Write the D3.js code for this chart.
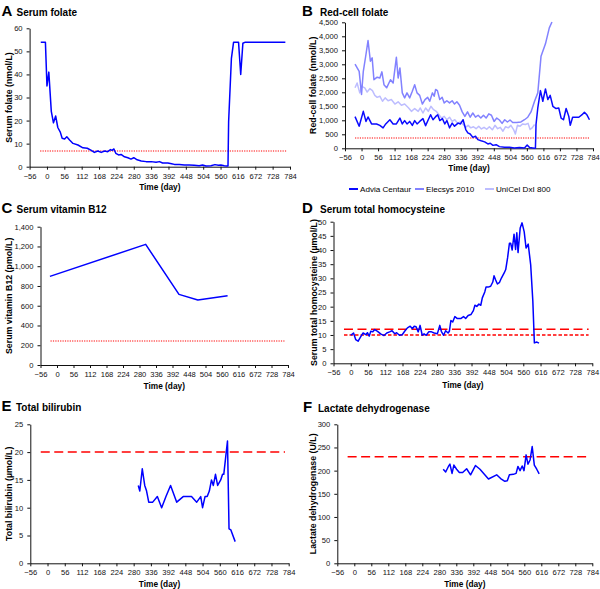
<!DOCTYPE html>
<html><head><meta charset="utf-8">
<script src="https://cdn.jsdelivr.net/npm/d3@7"></script>
<style>
body{margin:0;background:#fff}
svg{display:block}
text{font-family:"Liberation Sans",Arial,Helvetica,sans-serif}
</style>
</head><body>
<svg id="c" width="600" height="589"></svg>
<script>
// ---------- DATA ----------
const dayTicks = d3.range(-56, 785, 56);
const refSpan = [-22, 772];

// A: Serum folate (nmol/L)
const folateDays = [-20,-5,0,6,14,21,28,35,43,49,57,64,73,84,100,116,130,143,153,164,175,186,196,205,210,216,222,231,239,250,261,271,280,291,304,320,336,352,363,373,390,402,411,427,443,459,475,491,502,513,529,542,553,561,572,580,584,586,595,602,618,625,632,640,769];
const folateValues = [54,54,35,41,24,19,22,17,15,12.3,12,13,11.6,10.1,9.4,8.2,8,7.1,6.2,6.8,6.2,6.8,6.5,7.4,7.1,7.7,5.8,5.1,5.3,4.3,3.9,3.3,3.9,3,2.5,2.2,2.2,1.9,2.2,1.6,1.6,1.3,1,1,0.7,0.7,0.6,0.4,0.7,0.3,0.4,0.9,0.6,0.7,0.4,0.3,0.3,19.5,47,54,54,40,53.5,54,54];
const folateRef = 6.8;

// B: Red-cell folate (nmol/L)
const rcfSeries = ["Advia Centaur", "Elecsys 2010", "UniCel DxI 800"];
const adviaDays = [-22,-8,6,15,22,34,51,62,73,82,96,107,118,130,138,146,154,163,172,180,188,197,208,217,226,234,242,251,258,265,274,282,289,298,307,315,327,335,344,353,360,368,377,386,394,405,417,428,436,445,456,467,484,501,518,535,552,561,569,586,589,591,597,606,614,623,631,639,648,659,668,676,684,693,702,707,715,727,736,747,755,763,772];
const adviaValues = [1130,790,1320,960,1120,870,870,820,730,870,1020,870,870,1080,870,990,870,960,820,990,870,960,1060,810,1020,1200,1020,1130,1200,990,1060,870,990,730,900,790,900,870,1020,670,550,510,390,430,310,270,230,155,180,105,130,60,35,35,12,25,12,120,25,0,0,850,1440,2060,1680,2120,1740,1890,1500,1420,1440,1080,1020,1420,1140,820,1110,1110,1110,1200,1290,1200,1020];
const elecsysDays = [-22,-8,0,6,15,22,30,36,42,53,62,69,76,85,98,107,118,124,130,138,146,154,163,172,180,188,197,206,215,224,231,240,246,251,257,265,273,280,289,298,307,315,323,332,341,350,359,368,377,386,395,404,413,422,431,440,449,458,467,476,485,494,503,512,526,540,552,563,574,586,597,608,623,636,645];
const elecsysValues = [3010,2750,1920,2750,3350,3850,3110,3230,2450,2540,2510,2730,2270,2160,2450,2330,3250,2510,2870,1980,1800,1980,1800,2040,2270,1980,1890,1580,1740,1820,1680,1980,1860,2100,2060,1740,1820,1620,1700,1620,1700,1580,1660,1540,1300,1140,1300,1110,1260,1110,1180,1080,1180,1080,1230,1180,960,1080,1010,890,1020,940,1010,920,920,940,1020,1110,1300,1680,1980,3290,3730,4300,4510];
const unicelDays = [-22,-15,-6,1,11,19,28,37,45,53,62,71,80,90,101,113,124,135,146,158,169,180,192,199,208,217,226,235,244,253,262,271,280,289,298,307,316,325,335,344,353,361,370,379,388,397,406,415,424,433,443,452,461,470,479,488,497,506,515,521,528,537,546,555,564,571,578,586];
const unicelValues = [2160,2330,1980,2210,2160,2010,2130,2060,1890,1820,1860,1680,1800,1700,1740,1580,1660,1540,1580,1460,1320,1420,1320,1440,1260,1440,1320,1500,1380,1320,1200,1080,1140,1020,1110,960,1020,900,940,850,750,820,730,770,700,790,690,750,680,770,660,820,700,750,610,770,730,820,670,510,820,790,870,850,890,670,730,850];
const rcfRef = 370;

// C: Serum vitamin B12 (pmol/L)
const b12Days = [-24,301,414,478,579];
const b12Values = [897,1221,715,658,702];
const b12Ref = 243;

// D: Serum total homocysteine (µmol/L)
const hcyDays = [0,9,16,24,33,40,49,54,60,65,71,78,87,97,108,117,126,134,143,149,158,167,175,184,193,200,206,212,219,225,232,238,245,253,262,271,281,289,294,301,308,316,320,325,331,338,346,357,366,373,381,390,398,403,409,416,422,427,435,439,446,454,461,465,470,476,483,489,498,503,509,515,519,524,530,535,539,543,550,556,563,569,576,584,591,596,604,611];
const hcyValues = [9.9,10.7,8.4,7.8,9.5,10.7,10.1,10.8,9.6,11.3,11.1,11.9,11.3,10.4,9.8,10.7,11.1,11.5,10.4,10.8,9.9,10.1,11.3,12.5,13.1,12.2,13.1,12.9,11.1,13.4,9.9,10.4,9.9,11.1,11.1,10.7,10.4,13.4,11.3,9.9,11.5,10.7,11.3,15.1,14.6,16.5,15.8,15.8,16.5,15.8,16.9,17.2,18.6,20.5,20.1,20.9,20.5,23.1,25.2,26.9,26.9,27.2,28.7,30.9,29.5,28,28.6,30.1,31.9,33.1,37.2,42.4,42.4,40,45.6,40.2,46.1,39.1,47.8,49.6,46.4,40.7,42.1,34.8,21.9,7.2,7.5,7.1];
const hcyRefUpper = 12;
const hcyRefLower = 10;

// E: Total bilirubin (µmol/L)
const biliDays = [295,300,308,316,322,329,342,357,371,385,400,420,441,468,485,498,504,512,519,526,533,539,546,553,563,569,573,579,585,590,596,610];
const biliValues = [14,13,17,14,13,11,11,12,10,12,14,11,12,12,11,12,10,12,12,13,15,14,16,14,15,16,16,19,22,6.2,6,3.9];
const biliRef = 20;

// F: Lactate dehydrogenase (U/L)
const ldhDays = [293,301,310,315,322,328,337,346,357,370,383,399,414,442,469,482,496,504,511,524,533,539,546,553,559,566,572,579,586,593,601,609];
const ldhValues = [203,197,209,214,194,212,203,196,196,204,191,211,203,182,191,183,177,178,191,192,194,209,200,210,200,234,214,223,252,212,203,193];
const ldhRef = 230;

// ---------- DRAW ----------
const svg = d3.select("#c");
const BLUE = "#0000ff";
const RED = "#ff0000";
const zip = (a, b) => a.map((d, i) => [d, b[i]]);

function panel(o) {
  const g = svg.append("g");
  const x = d3.scaleLinear().domain([-56, 784]).range([o.x0, o.x1]);
  const y = d3.scaleLinear().domain([0, o.yMax]).range([o.yb, o.yt]);

  const xa = g.append("g").attr("transform", `translate(0,${o.yb})`)
    .call(d3.axisBottom(x).tickValues(dayTicks).tickSize(3).tickPadding(3.5).tickSizeOuter(0));
  const ya = g.append("g").attr("transform", `translate(${o.x0},0)`)
    .call(d3.axisLeft(y).tickValues(d3.range(0, o.yMax + 1e-9, o.yStep)).tickSize(3).tickPadding(4)
      .tickSizeOuter(0).tickFormat(d3.format(",")));
  [xa, ya].forEach(a => {
    a.selectAll("path.domain").attr("stroke", "#111").attr("stroke-width", 1);
    a.selectAll(".tick line").attr("stroke", "#111");
    a.selectAll(".tick text").attr("font-size", 7.6).attr("fill", "#111")
      .attr("font-family", '"Liberation Sans",Arial,sans-serif');
  });

  // reference lines
  o.refs.forEach(r => {
    g.append("line")
      .attr("x1", x(refSpan[0])).attr("x2", x(refSpan[1]))
      .attr("y1", y(r.v)).attr("y2", y(r.v))
      .attr("stroke", RED).attr("stroke-width", r.w)
      .attr("stroke-dasharray", r.dash);
  });

  // series
  const line = d3.line().x(d => x(d[0])).y(d => y(d[1]));
  o.series.forEach(s => {
    g.append("path").datum(s.data).attr("d", line)
      .attr("fill", "none").attr("stroke", s.color).attr("stroke-width", s.w || 1.5)
      .attr("stroke-linejoin", "round");
  });

  // titles
  g.append("text").attr("x", o.lx).attr("y", o.ly).attr("font-size", 15).attr("font-weight", "bold")
    .attr("fill", "#000").text(o.letter);
  g.append("text").attr("x", o.tx).attr("y", o.ly).attr("font-size", 10).attr("font-weight", "bold")
    .attr("fill", "#000").text(o.title);
  g.append("text").attr("x", (o.x0 + o.x1) / 2).attr("y", o.xly).attr("text-anchor", "middle")
    .attr("font-size", 8.3).attr("font-weight", "bold").attr("fill", "#000").text("Time (day)");
  g.append("text").attr("transform", `translate(${o.ylx},${(o.yb + o.yt) / 2}) rotate(-90)`)
    .attr("text-anchor", "middle").attr("dy", "0.35em")
    .attr("font-size", 8.8).attr("font-weight", "bold").attr("fill", "#000").text(o.ylabel);
  return { g, x, y };
}

const dotted = "1.2,1.2", longDash = "9,4.5", shortDash = "3.5,2";

panel({ x0: 29.6, x1: 290, yb: 166.7, yt: 28.3, yMax: 60, yStep: 10,
  letter: "A", title: "Serum folate", lx: 1.5, ly: 15.5, tx: 16.5, xly: 190, ylx: 8.5,
  ylabel: "Serum folate (nmol/L)",
  refs: [{ v: folateRef, dash: dotted, w: 1.1 }],
  series: [{ data: zip(folateDays, folateValues), color: BLUE }] });

const pb = panel({ x0: 345, x1: 593, yb: 148.3, yt: 22.3, yMax: 4500, yStep: 500,
  letter: "B", title: "Red-cell folate", lx: 302, ly: 15.5, tx: 320, xly: 171, ylx: 313,
  ylabel: "Red-cell folate (nmol/L)",
  refs: [{ v: rcfRef, dash: dotted, w: 1.1 }],
  series: [
    { data: zip(unicelDays, unicelValues), color: "#bdbdff" },
    { data: zip(elecsysDays, elecsysValues), color: "#8282ff" },
    { data: zip(adviaDays, adviaValues), color: "#0a0aff" }
  ] });

// legend for B
const legendColors = ["#0a0aff", "#8282ff", "#bdbdff"];
const legendX = [349, 415, 485];
rcfSeries.forEach((name, i) => {
  svg.append("line").attr("x1", legendX[i]).attr("x2", legendX[i] + 9).attr("y1", 189).attr("y2", 189)
    .attr("stroke", legendColors[i]).attr("stroke-width", 2);
  svg.append("text").attr("x", legendX[i] + 11).attr("y", 189).attr("dy", "0.35em")
    .attr("font-size", 8.1).attr("fill", "#000").text(name);
});

panel({ x0: 40.5, x1: 288, yb: 365, yt: 226.7, yMax: 1400, yStep: 200,
  letter: "C", title: "Serum vitamin B12", lx: 1.5, ly: 213, tx: 16.5, xly: 389, ylx: 9,
  ylabel: "Serum vitamin B12 (pmol/L)",
  refs: [{ v: b12Ref, dash: dotted, w: 1.1 }],
  series: [{ data: zip(b12Days, b12Values), color: BLUE }] });

panel({ x0: 333.5, x1: 592.3, yb: 363.3, yt: 221.7, yMax: 50, yStep: 5,
  letter: "D", title: "Serum total homocysteine", lx: 302, ly: 213, tx: 320, xly: 388, ylx: 313.5,
  ylabel: "Serum total homocysteine (\u00b5mol/L)",
  refs: [{ v: hcyRefUpper, dash: longDash, w: 1.5 }, { v: hcyRefLower, dash: shortDash, w: 1.3 }],
  series: [{ data: zip(hcyDays, hcyValues), color: BLUE }] });

panel({ x0: 30.3, x1: 288.7, yb: 563.3, yt: 424.3, yMax: 25, yStep: 5,
  letter: "E", title: "Total bilirubin", lx: 1.5, ly: 410.7, tx: 16, xly: 586.5, ylx: 8.5,
  ylabel: "Total bilirubin (\u00b5mol/L)",
  refs: [{ v: biliRef, dash: longDash, w: 1.5 }],
  series: [{ data: zip(biliDays, biliValues), color: BLUE }] });

panel({ x0: 337.3, x1: 592.3, yb: 563.3, yt: 424.3, yMax: 300, yStep: 50,
  letter: "F", title: "Lactate dehydrogenase", lx: 303, ly: 411.5, tx: 318, xly: 586.5, ylx: 312.5,
  ylabel: "Lactate dehydrogenase (U/L)",
  refs: [{ v: ldhRef, dash: longDash, w: 1.5 }],
  series: [{ data: zip(ldhDays, ldhValues), color: BLUE }] });
</script>
</body></html>
